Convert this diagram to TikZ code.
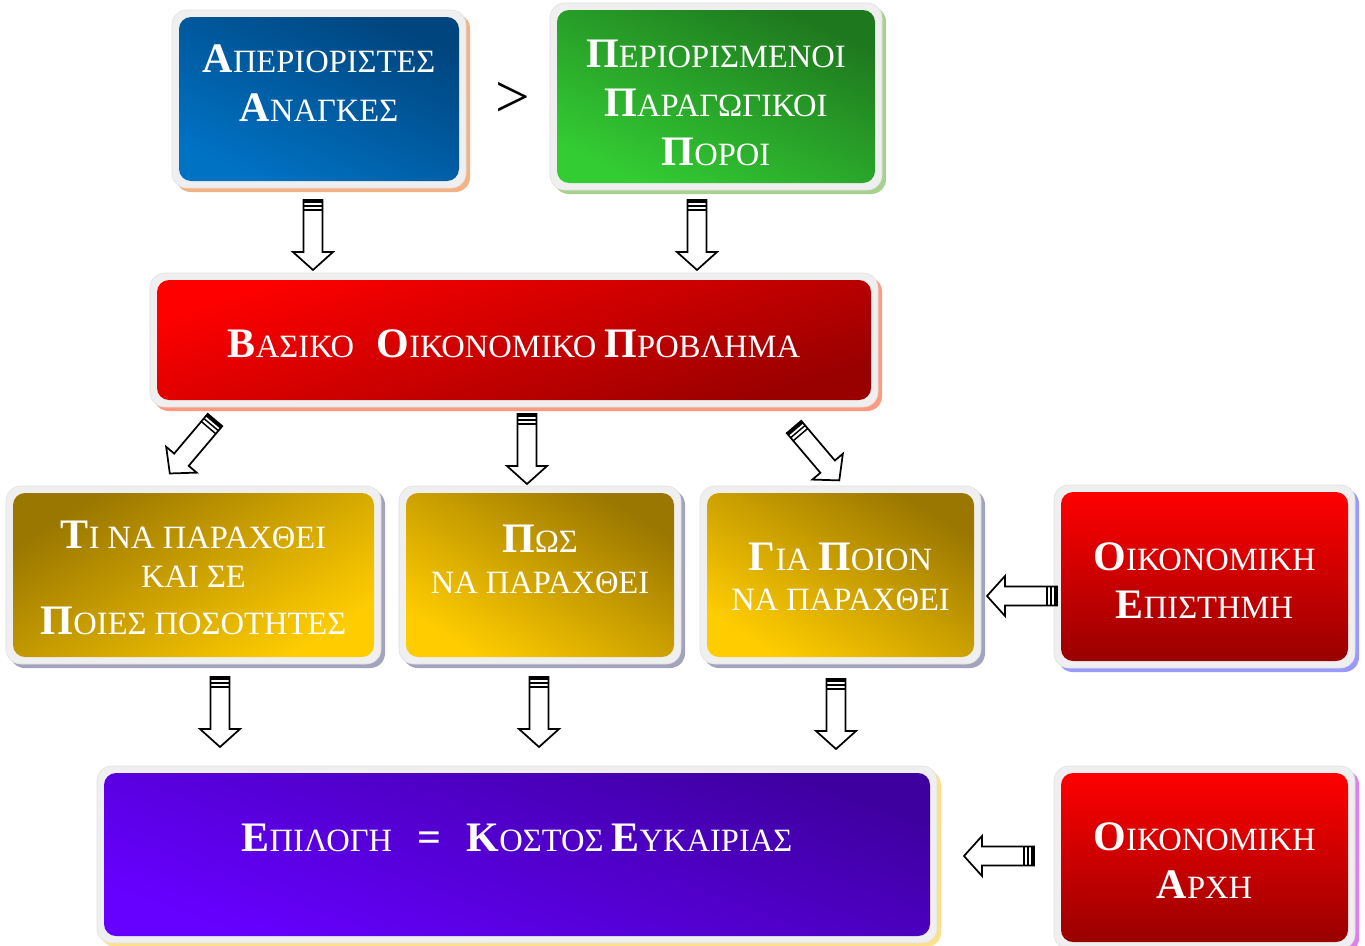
\documentclass[tikz,border=0pt]{standalone}
\usepackage{fontspec}
\setmainfont{Liberation Serif}
\usetikzlibrary{fit}
\definecolor{framegray}{HTML}{EFEFEF}
\definecolor{shBlue}{HTML}{F4B183}
\definecolor{shGreen}{HTML}{A9D18E}
\definecolor{shRed}{HTML}{FF9980}
\definecolor{shGold}{HTML}{A3A3BD}
\definecolor{shRB}{HTML}{9999FF}
\definecolor{shPur}{HTML}{FFE08A}
\definecolor{shPink}{HTML}{E080F0}
\definecolor{blueD}{HTML}{00457E}
\definecolor{blueL}{HTML}{0072C4}
\definecolor{greenD}{HTML}{1E781E}
\definecolor{greenL}{HTML}{33CC33}
\definecolor{redL}{HTML}{FF0000}
\definecolor{redD}{HTML}{990000}
\definecolor{goldD}{HTML}{9A7700}
\definecolor{goldL}{HTML}{FFCC00}
\definecolor{purD}{HTML}{3F00A0}
\definecolor{purL}{HTML}{6600FF}
\newcommand\Bg[1]{{\fontsize{31.5}{36}\selectfont\bfseries #1}}
\newcommand\gbox[7]{%
  \fill[#6, rounded corners=11pt] (#2-3,#3-3) rectangle (#4+11,#5+11);
  \fill[framegray, draw=black!12, line width=0.4pt, rounded corners=11pt] (#2-7,#3-7) rectangle (#4+7,#5+7);
  \node[fit={(#2,#3)(#4,#5)}, inner sep=0pt, rounded corners=9pt, #7] (#1) {};
}
\tikzset{
  txt/.style={text=white, align=center, inner sep=0pt, anchor=north,
    font=\fontsize{24.4}{29.25}\selectfont},
  barrow/.pic={
    \draw[fill=white, line width=1.3pt, miter limit=10] (0,-9.5) -- (52,-9.5) -- (52,-20) -- (70,0) -- (52,20) -- (52,9.5) -- (0,9.5) -- cycle;
    \draw[line width=2.4pt] (1.6,-9.5) -- (1.6,9.5);
    \draw[line width=1.1pt] (6,-9.5) -- (6,9.5);
    \draw[line width=1.1pt] (10,-9.5) -- (10,9.5);
    \coordinate (-tip) at (70,0);
  }
}
\begin{document}
\begin{tikzpicture}[x=0.75pt,y=-0.75pt]
\useasboundingbox (0,0) rectangle (1365,946);
% boxes
\gbox{b1}{179}{17}{459}{181}{shBlue}{top color=blueD, bottom color=blueL, shading angle=-25}
\gbox{b2}{557}{10}{875}{183}{shGreen}{top color=greenD, bottom color=greenL, shading angle=-25}
\gbox{b3}{157}{280}{871}{400}{shRed}{top color=redL, bottom color=redD, shading angle=18}
\gbox{b4}{13}{493}{374}{657}{shGold}{top color=goldD, bottom color=goldL, shading angle=32}
\gbox{b5}{406}{493}{674}{657}{shGold}{top color=goldD, bottom color=goldL, shading angle=-32}
\gbox{b6}{707}{493}{974}{657}{shGold}{top color=goldD, bottom color=goldL, shading angle=-32}
\gbox{b7}{1061}{492}{1348}{661}{shRB}{top color=redL, bottom color=redD}
\gbox{b8}{104}{773}{930}{936}{shPur}{top color=purD, bottom color=purL, shading angle=-20}
\gbox{b9}{1061}{773}{1348}{942}{shPink}{top color=redL, bottom color=redD}
% texts
\node[txt] (t1) at (319,45) {\Bg{Α}ΠΕΡΙΟΡΙΣΤΕΣ\\[7.5pt]\Bg{Α}ΝΑΓΚΕΣ};
\node[txt] (t2) at (716,40) {\Bg{Π}ΕΡΙΟΡΙΣΜΕΝΟΙ\\[7.5pt]\Bg{Π}ΑΡΑΓΩΓΙΚΟΙ\\[7.5pt]\Bg{Π}ΟΡΟΙ};
\node[txt] (t3) at (514,329) {\Bg{Β}ΑΣΙΚΟ\hspace{17pt}\Bg{Ο}ΙΚΟΝΟΜΙΚΟ \Bg{Π}ΡΟΒΛΗΜΑ};
\node[txt] (t4) at (193.5,521) {\Bg{Τ}Ι ΝΑ ΠΑΡΑΧΘΕΙ\\ΚΑΙ ΣΕ\\[6pt]\Bg{Π}ΟΙΕΣ ΠΟΣΟΤΗΤΕΣ};
\node[txt] (t5) at (540,525) {\Bg{Π}ΩΣ\\[1.5pt]ΝΑ ΠΑΡΑΧΘΕΙ};
\node[txt] (t6) at (840.5,543) {\Bg{Γ}ΙΑ \Bg{Π}ΟΙΟΝ\\[0.75pt]ΝΑ ΠΑΡΑΧΘΕΙ};
\node[txt] (t7) at (1204.5,542) {\Bg{Ο}ΙΚΟΝΟΜΙΚΗ\\[6.75pt]\Bg{Ε}ΠΙΣΤΗΜΗ};
\node[txt] (t8) at (517,824) {\Bg{Ε}ΠΙΛΟΓΗ\hspace{19pt}\Bg{=}\hspace{19pt}\Bg{Κ}ΟΣΤΟΣ \Bg{Ε}ΥΚΑΙΡΙΑΣ};
\node[txt] (t9) at (1204.5,822) {\Bg{Ο}ΙΚΟΝΟΜΙΚΗ\\[6.75pt]\Bg{Α}ΡΧΗ};
% greater-than sign
\node[font=\fontsize{46}{46}\selectfont, inner sep=0pt] (gt) at (513,100) {>};
% block arrows
\pic[rotate=-90] (a1) at (313,200) {barrow};
\pic[rotate=-90] (a2) at (697,200) {barrow};
\pic[rotate=-130.2] (a3) at (215,420) {barrow};
\pic[rotate=-90] (a4) at (527,414) {barrow};
\pic[rotate=-49.7] (a5) at (794,427) {barrow};
\pic[rotate=180] (a6) at (1057,596) {barrow};
\pic[rotate=-90] (a7) at (220,677) {barrow};
\pic[rotate=-90] (a8) at (539,677) {barrow};
\pic[rotate=-90] (a9) at (836,679) {barrow};
\pic[rotate=180] (a10) at (1034,856) {barrow};
\end{tikzpicture}
\end{document}
